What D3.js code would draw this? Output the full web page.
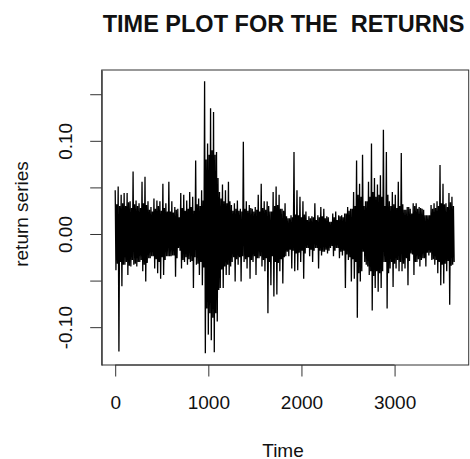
<html>
<head>
<script src="https://d3js.org/d3.v7.min.js"></script>
<style>
body { margin: 0; background: #fff; }
text { font-family: "Liberation Sans", Arial, sans-serif; fill: #111; }
</style>
</head>
<body>
<svg id="main_vis" width="470" height="459"></svg>
<script>
// bucket width in time steps; each bucket has a high, a low and the half-width
// of the dense core, all read off the picture
var BUCKET = 32;
var hi = [
  0.047, 0.051, 0.042, 0.044, 0.044, 0.035, 0.067, 0.036, 0.033, 0.056,
  0.0615, 0.035, 0.029, 0.038, 0.036, 0.035, 0.054, 0.033, 0.056, 0.035,
  0.029, 0.027, 0.044, 0.042, 0.036, 0.045, 0.040, 0.079, 0.038, 0.047,
  0.164, 0.097, 0.135, 0.131, 0.088, 0.045, 0.053, 0.047, 0.056, 0.031,
  0.033, 0.036, 0.027, 0.099, 0.035, 0.031, 0.027, 0.029, 0.042, 0.054,
  0.035, 0.035, 0.024, 0.045, 0.051, 0.042, 0.027, 0.033, 0.017, 0.020,
  0.088, 0.047, 0.040, 0.035, 0.024, 0.019, 0.019, 0.033, 0.020, 0.029,
  0.027, 0.019, 0.013, 0.022, 0.024, 0.020, 0.020, 0.022, 0.029, 0.027,
  0.045, 0.079, 0.054, 0.085, 0.035, 0.056, 0.097, 0.060, 0.053, 0.063,
  0.112, 0.088, 0.035, 0.045, 0.042, 0.056, 0.087, 0.026, 0.029, 0.027,
  0.033, 0.033, 0.029, 0.027, 0.020, 0.020, 0.031, 0.033, 0.035, 0.074,
  0.054, 0.033, 0.044, 0.040
];
var lo = [
  -0.039, -0.126, -0.056, -0.033, -0.044, -0.035, -0.033, -0.035, -0.030, -0.040,
  -0.051, -0.026, -0.024, -0.037, -0.042, -0.048, -0.044, -0.024, -0.024, -0.023,
  -0.046, -0.015, -0.037, -0.030, -0.033, -0.030, -0.058, -0.033, -0.044, -0.055,
  -0.128, -0.108, -0.114, -0.127, -0.094, -0.058, -0.058, -0.044, -0.044, -0.030,
  -0.051, -0.033, -0.051, -0.030, -0.037, -0.048, -0.030, -0.044, -0.026, -0.035,
  -0.040, -0.085, -0.055, -0.067, -0.065, -0.040, -0.053, -0.024, -0.024, -0.037,
  -0.040, -0.039, -0.030, -0.048, -0.015, -0.024, -0.030, -0.015, -0.037, -0.023,
  -0.019, -0.021, -0.015, -0.024, -0.015, -0.026, -0.023, -0.058, -0.028, -0.051,
  -0.048, -0.090, -0.051, -0.019, -0.033, -0.044, -0.082, -0.058, -0.062, -0.058,
  -0.030, -0.080, -0.037, -0.057, -0.037, -0.040, -0.040, -0.037, -0.055, -0.021,
  -0.044, -0.030, -0.035, -0.026, -0.035, -0.023, -0.028, -0.033, -0.042, -0.055,
  -0.053, -0.040, -0.076, -0.033
];
var core = [
  0.032, 0.030, 0.033, 0.030, 0.034, 0.028, 0.032, 0.030, 0.028, 0.033,
  0.031, 0.026, 0.024, 0.027, 0.030, 0.025, 0.028, 0.024, 0.024, 0.023,
  0.026, 0.018, 0.028, 0.025, 0.027, 0.029, 0.025, 0.032, 0.030, 0.036,
  0.080, 0.085, 0.090, 0.085, 0.060, 0.038, 0.035, 0.033, 0.035, 0.025,
  0.027, 0.025, 0.024, 0.027, 0.025, 0.028, 0.024, 0.026, 0.024, 0.028,
  0.026, 0.030, 0.024, 0.030, 0.031, 0.027, 0.025, 0.019, 0.017, 0.018,
  0.021, 0.020, 0.018, 0.021, 0.015, 0.017, 0.018, 0.015, 0.018, 0.019,
  0.017, 0.018, 0.013, 0.018, 0.015, 0.019, 0.018, 0.022, 0.025, 0.027,
  0.030, 0.042, 0.040, 0.030, 0.035, 0.040, 0.045, 0.040, 0.042, 0.040,
  0.030, 0.042, 0.030, 0.032, 0.028, 0.030, 0.032, 0.026, 0.029, 0.022,
  0.030, 0.027, 0.028, 0.026, 0.020, 0.020, 0.027, 0.028, 0.030, 0.033,
  0.032, 0.029, 0.034, 0.030
];
var xTicks = [0, 1000, 2000, 3000];
var yTicks = [-0.10, -0.05, 0.00, 0.05, 0.10, 0.15];
var yLabels = ["-0.10", "", "0.00", "", "0.10", ""];

var svg = d3.select("#main_vis");

// plot box
var boxL = 101.7, boxR = 468.7, boxT = 70, boxB = 365;

var x = d3.scaleLinear().domain([-145, 3796]).range([boxL, boxR]);
var y = d3.scaleLinear().domain([-0.1406, 0.176]).range([boxB, boxT]);

// zigzag: high, low, then twice across the core, per bucket
var pts = [];
hi.forEach(function(h, i) {
  var t = i * BUCKET;
  pts.push({ t: t, v: h });
  pts.push({ t: t + BUCKET / 4, v: lo[i] });
  pts.push({ t: t + BUCKET / 2, v: core[i] });
  pts.push({ t: t + 3 * BUCKET / 4, v: -core[i] });
});

svg.append("path")
  .datum(pts)
  .attr("fill", "none")
  .attr("stroke", "#000")
  .attr("stroke-width", 1.3)
  .attr("d", d3.line()
    .x(function(d) { return x(d.t); })
    .y(function(d) { return y(d.v); }));

svg.append("rect")
  .attr("x", boxL).attr("y", boxT)
  .attr("width", boxR - boxL).attr("height", boxB - boxT)
  .attr("fill", "none").attr("stroke", "#333").attr("stroke-width", 1);

// x axis
var xa = svg.append("g").attr("transform", "translate(0," + boxB + ")")
  .call(d3.axisBottom(x).tickValues(xTicks).tickSize(11.5).tickSizeOuter(0)
    .tickFormat(d3.format("d")));
xa.select(".domain").attr("d", "M" + x(0) + ",0H" + x(3000)).attr("stroke", "#333");
xa.selectAll(".tick line").attr("stroke", "#333");
xa.selectAll("text").style("font-size", "19px").attr("fill", "#111")
  .attr("y", 43.5).attr("dy", null);

// y axis
var ya = svg.append("g").attr("transform", "translate(" + boxL + ",0)")
  .call(d3.axisLeft(y).tickValues(yTicks).tickSize(11.5).tickSizeOuter(0)
    .tickFormat(function(d, i) { return yLabels[i]; }));
ya.select(".domain").attr("stroke", "#333");
ya.selectAll(".tick line").attr("stroke", "#333");
ya.selectAll("text")
  .style("font-size", "19px").attr("fill", "#111")
  .attr("x", null).attr("dy", null)
  .attr("text-anchor", "middle")
  .attr("transform", "translate(-30,0) rotate(-90)");

// titles
svg.append("text").attr("x", 283.5).attr("y", 31.5)
  .attr("text-anchor", "middle")
  .style("font-size", "23.5px").style("font-weight", "bold")
  .style("white-space", "pre")
  .text("TIME PLOT FOR THE  RETURNS");

svg.append("text").attr("x", 283).attr("y", 456.5)
  .attr("text-anchor", "middle").style("font-size", "19px")
  .text("Time");

svg.append("text")
  .attr("transform", "translate(28.3,214) rotate(-90)")
  .attr("text-anchor", "middle").style("font-size", "19px")
  .text("return series");
</script>
</body>
</html>
